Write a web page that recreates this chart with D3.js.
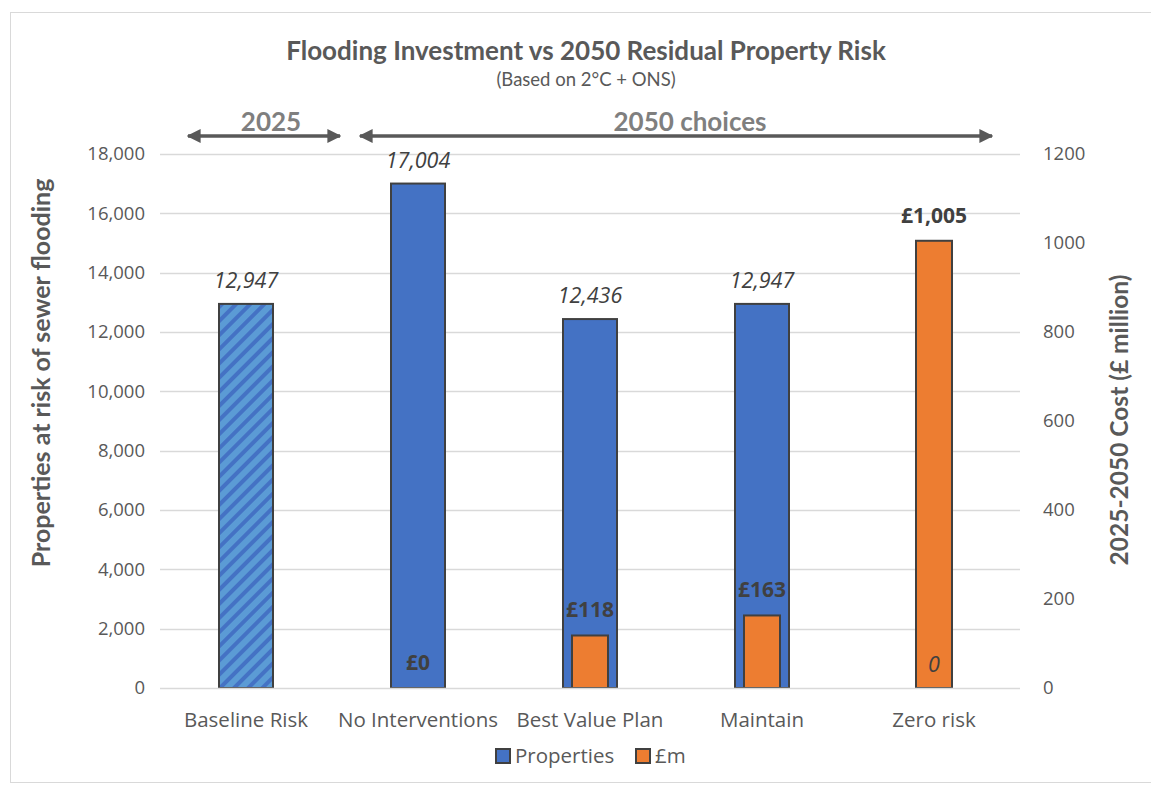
<!DOCTYPE html>
<html>
<head>
<meta charset="utf-8">
<script src="https://cdn.jsdelivr.net/npm/d3@7"></script>
<style>
  body { margin: 0; background: #fff; }
  text { fill: #595959; }
</style>
</head>
<body>
<div id="chart"></div>
<script>
var categories = ["Baseline Risk", "No Interventions", "Best Value Plan", "Maintain", "Zero risk"];
var properties = [12947, 17004, 12436, 12947, 0];
var costs = [null, 0, 118, 163, 1005];
var leftTicks = [0, 2000, 4000, 6000, 8000, 10000, 12000, 14000, 16000, 18000];
var rightTicks = [0, 200, 400, 600, 800, 1000, 1200];
var periods = [
  {label: "2025", from: "Baseline Risk", to: "Baseline Risk"},
  {label: "2050 choices", from: "No Interventions", to: "Zero risk"}
];

var w = 1151, h = 787;
var m = {top: 154, right: 131, bottom: 99, left: 160};
var iw = w - m.left - m.right, ih = h - m.top - m.bottom;
var blue = "#4472C4", orange = "#ED7D31", edge = "#404040";
var mono = "'Open Sans', sans-serif", cal = "Lato, sans-serif";

var svg = d3.select("#chart").append("svg").attr("width", w).attr("height", h);
var defs = svg.append("defs");
var pat = defs.append("pattern").attr("id", "hatch").attr("patternUnits", "userSpaceOnUse")
  .attr("width", 10).attr("height", 10).attr("patternTransform", "rotate(45)");
pat.append("rect").attr("width", 10).attr("height", 10).attr("fill", "#5B9BD5");
pat.append("rect").attr("width", 4).attr("height", 10).attr("fill", blue);

svg.append("rect").attr("x", 10.5).attr("y", 12.5).attr("width", w).attr("height", 770)
  .attr("fill", "none").attr("stroke", "#d9d9d9");

var x = d3.scaleBand().domain(categories).range([m.left, m.left + iw]);
var y = d3.scaleLinear().domain([0, 18000]).range([m.top + ih, m.top]);
var y2 = d3.scaleLinear().domain([0, 1200]).range([m.top + ih, m.top]);

// gridlines
svg.append("g").selectAll("line").data(leftTicks.slice(1)).enter().append("line")
  .attr("x1", m.left).attr("x2", m.left + iw)
  .attr("y1", function(d) { return Math.round(y(d)) + 0.5; })
  .attr("y2", function(d) { return Math.round(y(d)) + 0.5; })
  .attr("stroke", "#d9d9d9").attr("stroke-width", 1.5);

// left axis
var ax = svg.append("g").attr("transform", "translate(" + (m.left - 15) + ",0)")
  .call(d3.axisLeft(y).tickValues(leftTicks).tickSize(0).tickPadding(0).tickFormat(d3.format(",")));
ax.select(".domain").remove();
ax.selectAll("text").attr("font-family", mono).attr("font-size", 18.5).style("fill", "#595959");

// right axis
var ax2 = svg.append("g").attr("transform", "translate(" + (m.left + iw + 23) + ",0)")
  .call(d3.axisRight(y2).tickValues(rightTicks).tickSize(0).tickPadding(0).tickFormat(d3.format("d")));
ax2.select(".domain").remove();
ax2.selectAll("text").attr("font-family", mono).attr("font-size", 18.5).style("fill", "#595959");

// property bars
var bw = 54, cw = 36;
svg.append("g").selectAll("rect").data(properties).enter().append("rect")
  .attr("x", function(d, i) { return x(categories[i]) + x.bandwidth() / 2 - bw / 2; })
  .attr("y", function(d) { return y(d); })
  .attr("width", bw)
  .attr("height", function(d) { return y(0) - y(d); })
  .attr("fill", function(d, i) { return i === 0 ? "url(#hatch)" : blue; })
  .attr("stroke", edge).attr("stroke-width", 2)
  .style("display", function(d) { return d > 0 ? null : "none"; });

// cost bars
svg.append("g").selectAll("rect").data(costs).enter().append("rect")
  .attr("x", function(d, i) { return x(categories[i]) + x.bandwidth() / 2 - cw / 2; })
  .attr("y", function(d) { return y2(d || 0); })
  .attr("width", cw)
  .attr("height", function(d) { return y2(0) - y2(d || 0); })
  .attr("fill", orange)
  .attr("stroke", edge).attr("stroke-width", 2)
  .style("display", function(d) { return d > 0 ? null : "none"; });

// x baseline
svg.append("line").attr("x1", m.left).attr("x2", m.left + iw)
  .attr("y1", y(0) + 0.5).attr("y2", y(0) + 0.5).attr("stroke", "#d9d9d9").attr("stroke-width", 1.5);

// property labels
svg.append("g").selectAll("text").data(properties).enter().append("text")
  .attr("x", function(d, i) { return x(categories[i]) + x.bandwidth() / 2; })
  .attr("y", function(d) { return y(d) - 16; })
  .attr("text-anchor", "middle").attr("font-family", mono).attr("font-style", "italic")
  .attr("font-size", 21.5).style("fill", edge)
  .text(function(d) { return d3.format(",")(d); });

// cost labels
svg.append("g").selectAll("text").data(costs.filter(function(d) { return d !== null; })).enter().append("text")
  .attr("x", function(d, i) { return x(categories[i + 1]) + x.bandwidth() / 2; })
  .attr("y", function(d) { return y2(d) - 18; })
  .attr("text-anchor", "middle").attr("font-family", mono).attr("font-weight", "bold")
  .attr("font-size", 21).style("fill", edge)
  .text(function(d) { return "£" + d3.format(",")(d); });

// category labels
svg.append("g").selectAll("text").data(categories).enter().append("text")
  .attr("x", function(d) { return x(d) + x.bandwidth() / 2; })
  .attr("y", y(0) + 39)
  .attr("text-anchor", "middle").attr("font-family", mono).attr("font-size", 20.5)
  .text(function(d) { return d; });

// title
svg.append("text").attr("x", 586).attr("y", 60).attr("text-anchor", "middle")
  .attr("font-family", cal).attr("font-weight", "bold").attr("font-size", 26)
  .text("Flooding Investment vs 2050 Residual Property Risk");
svg.append("text").attr("x", 586).attr("y", 86).attr("text-anchor", "middle")
  .attr("font-family", cal).attr("font-size", 18.5)
  .text("(Based on 2°C + ONS)");

// period arrows
var ay = 136;
defs.append("marker").attr("id", "ah").attr("viewBox", "0 0 10 10").attr("refX", 9).attr("refY", 5)
  .attr("markerWidth", 4).attr("markerHeight", 4).attr("orient", "auto-start-reverse")
  .append("path").attr("d", "M0,0L10,5L0,10z").attr("fill", "#595959");
periods.forEach(function(p, i) {
  var x1 = x(p.from) + 28;
  var x2 = i === 0 ? x(p.to) + x.bandwidth() + 8 : x(p.to) + x.bandwidth() - 28;
  svg.append("line").attr("x1", x1).attr("x2", x2).attr("y1", ay).attr("y2", ay)
    .attr("stroke", "#595959").attr("stroke-width", 3.5)
    .attr("marker-start", "url(#ah)").attr("marker-end", "url(#ah)");
  svg.append("text").attr("x", (x1 + x2) / 2 + (i === 0 ? 7 : 14)).attr("y", ay - 5)
    .attr("text-anchor", "middle").attr("font-family", cal).attr("font-weight", "bold")
    .attr("font-size", 26).style("fill", "#7f7f7f").text(p.label);
});

// axis titles
svg.append("text").attr("transform", "translate(50,373) rotate(-90)")
  .attr("text-anchor", "middle").attr("font-family", cal).attr("font-weight", "bold").attr("font-size", 25)
  .text("Properties at risk of sewer flooding");
svg.append("text").attr("transform", "translate(1128,420) rotate(-90)")
  .attr("text-anchor", "middle").attr("font-family", cal).attr("font-weight", "bold").attr("font-size", 24.5)
  .text("2025-2050 Cost (£ million)");

// legend
var legend = [{name: "Properties", color: blue, x: 496}, {name: "£m", color: orange, x: 636}];
var lg = svg.append("g").selectAll("g").data(legend).enter().append("g")
  .attr("transform", function(d) { return "translate(" + d.x + ",749)"; });
lg.append("rect").attr("width", 14).attr("height", 14).attr("fill", function(d) { return d.color; })
  .attr("stroke", edge).attr("stroke-width", 2);
lg.append("text").attr("x", 19).attr("y", 14).attr("font-family", mono).attr("font-size", 20.5)
  .text(function(d) { return d.name; });
</script>
</body>
</html>
